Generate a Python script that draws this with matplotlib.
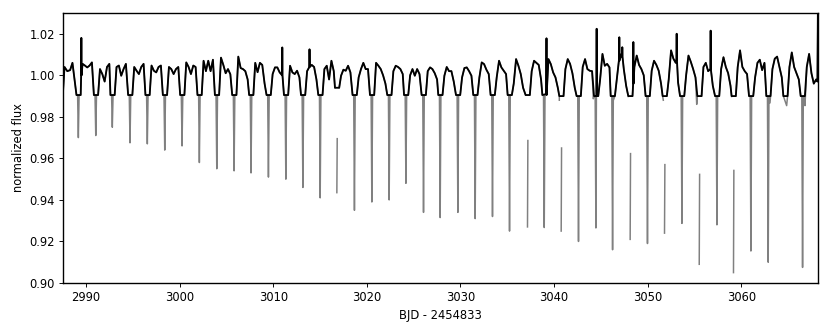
import numpy as np
import matplotlib
matplotlib.use("Agg")
import matplotlib.pyplot as plt

# ---- data ----
# primary eclipse mid-times (BJD - 2454833)
ecl_t = [2989.18, 2991.04, 2992.81, 2994.70, 2996.55, 2998.41, 3000.26, 3002.11,
         3003.97, 3005.82, 3007.63, 3009.49, 3011.35, 3013.17, 3015.02, 3016.80,
         3018.68, 3020.54, 3022.39, 3024.18, 3026.06, 3027.84, 3029.73, 3031.58,
         3033.43, 3035.25, 3037.17, 3038.96, 3040.77, 3042.62, 3044.48, 3046.26,
         3048.14, 3049.99, 3051.81, 3053.67, 3055.52, 3057.41, 3059.18, 3061.04,
         3062.89, 3064.71, 3066.56]
nan = float("nan")
# lowest raw flux in each eclipse
ecl_depth = [0.970, 0.971, 0.975, 0.9675, 0.967, 0.964, 0.966, 0.958,
             0.955, 0.954, 0.953, 0.951, 0.950, 0.946, 0.941, 0.9435,
             0.935, 0.939, 0.940, 0.948, 0.934, 0.9315, 0.934, 0.931,
             0.932, 0.925, 0.927, 0.9267, 0.925, 0.920, 0.9265, 0.916,
             0.921, 0.919, 0.924, 0.9287, 0.909, 0.928, 0.905, 0.9154,
             0.910, nan, 0.9075]
# top of isolated (gap-bounded) in-eclipse segments
ecl_top = [nan] * 15 + [0.9695] + [nan] * 10 + [0.9686, nan, 0.965, nan, nan, nan,
           0.9623, nan, 0.957, nan, 0.9523, nan, 0.9542, nan, nan, nan, nan]
# level of the masked (flat) model during each eclipse
flat_level = [0.9905] * 15 + [0.994] + [0.9905] * 12 + [0.990] * 15

# out-of-eclipse model flux after each eclipse
knot_a = [1.0055, 1.003, 1.004, 1.004, 1.0047, 1.004, 1.0062, 1.007, 1.0085, 1.009,
          1.006, 1.0006, 1.0046, 1.002, 1.003, 0.9998, 0.999, 1.006, 1.002, 1.000,
          1.002, 0.9998, 0.999, 0.999, 0.999, 0.996, 1.002, 1.0078, 1.003, 1.004,
          0.998, 0.998, 1.004, 1.0022, 0.998, 1.000, 1.004, 1.003, 1.004, 0.999,
          1.003, 1.004, 1.004]
knot_b = [1.0047, 1.0006, 1.0047, 1.0022, 1.0022, 1.003, 1.004, 1.002, 1.005, 1.0035,
          1.0015, 1.0038, 1.0014, 1.006, 1.0046, 1.0027, 1.003, 1.0046, 1.0046, 1.003,
          1.0038, 1.004, 1.0035, 1.0062, 1.007, 1.0078, 1.007, 1.0054, 1.0078, 1.0078,
          1.0103, 1.008, 1.0095, 1.007, 1.012, 1.0095, 1.006, 1.0087, 1.012, 1.006,
          1.008, 1.011, 1.0103]
knot_c = [1.0038, 0.997, 0.9998, 1.0006, 1.0014, 1.0006, 1.0006, 1.007, 1.001, 1.003,
          1.006, 1.0038, 1.0006, 1.005, 0.998, 1.0022, 1.006, 1.003, 1.004, 0.9998,
          1.003, 1.002, 1.0038, 1.0054, 1.0038, 1.0046, 1.006, 1.0014, 1.0055, 1.003,
          1.0046, 1.0103, 1.005, 1.005, 1.008, 1.0065, 1.002, 1.004, 1.004, 1.0075,
          1.009, 1.004, 1.001]
knot_d = [1.0047, 1.004, 1.003, 1.004, 1.004, 1.003, 1.0047, 1.002, 1.003, 1.002,
          1.005, 1.0014, 1.0022, 1.004, 1.007, 1.0046, 1.003, 1.000, 1.003, 1.003,
          1.001, 1.002, 1.002, 1.0027, 1.0022, 1.0006, 1.005, 0.999, 1.001, 1.0022,
          1.0055, 1.003, 1.003, 1.0022, 1.006, 1.003, 1.003, 1.001, 1.002, 1.0025,
          1.004, 1.001, 0.996]
knot_e = [1.0062, 1.0055, 1.0055, 1.0055, 1.0047, 1.004, 1.004, 1.0075, 1.0005, 0.998,
          0.996, 1.000, 0.999, 0.998, 1.002, 1.0014, 1.003, 0.996, 1.0006, 1.0006,
          0.998, 0.997, 0.9998, 1.0006, 1.0006, 0.994, 0.998, 0.994, 0.994, 1.002,
          1.0038, 0.995, 1.000, 0.996, 0.9965, 0.999, 0.995, 0.995, 1.0006, 1.006,
          0.999, 0.998, 0.998]
knot_offsets = [0.45, 0.70, 0.95, 1.20, 1.45]

# start of the light curve (before first eclipse) and its end
pre_t = [2987.54, 2987.70, 2988.00, 2988.30, 2988.55]
pre_f = [0.992, 1.004, 1.002, 1.0025, 1.006]
end_t = [3068.15, 3068.21]
end_f = [0.997, 1.040]

# single-cadence upward outliers
spike_t = [2989.50, 3010.97, 3013.88, 3039.20, 3044.56, 3046.98, 3047.30, 3048.48,
           3053.11, 3056.74]
spike_f = [1.018, 1.0134, 1.0125, 1.0178, 1.0224, 1.0183, 1.0135, 1.016, 1.020, 1.0215]
spike_base = [1.000, 1.000, 1.004, 0.991, 0.990, 1.007, 1.009, 0.996, 1.008, 1.003]

# small raw-flux points just below the model next to eclipses
blip_t = [3040.57, 3044.20, 3046.34, 3047.94, 3051.68, 3055.25, 3058.98, 3063.08,
          3064.86, 3066.82]
blip_f = [0.988, 0.9887, 0.988, 0.9898, 0.988, 0.986, 0.9898, 0.9867, 0.9854, 0.9854]

# ---- build the two series ----
knots = [knot_a, knot_b, knot_c, knot_d, knot_e]
bt, bf = list(pre_t), list(pre_f)
for i, t0 in enumerate(ecl_t):
    bt += [t0 - 0.20, t0 + 0.25]
    bf += [flat_level[i], flat_level[i]]
    for k, off in enumerate(knot_offsets):
        bt.append(t0 + off)
        bf.append(knots[k][i])
for t, f, b in zip(spike_t, spike_f, spike_base):
    bt += [t - 0.02, t, t + 0.02]
    bf += [b, f, b]
bt += end_t
bf += end_f
order = np.argsort(bt, kind="stable")
bt = np.array(bt)[order]
bf = np.array(bf)[order]

gt, gf = list(bt), list(bf)
for i, t0 in enumerate(ecl_t):
    d = ecl_depth[i]
    if np.isnan(d):
        continue
    if np.isnan(ecl_top[i]):
        gt += [t0 - 0.08, t0, t0 + 0.08]
        gf += [flat_level[i], d, flat_level[i]]
    else:
        gt += [t0 - 0.01, t0, t0 + 0.04, t0 + 0.05]
        gf += [nan, d, ecl_top[i], nan]
gt += blip_t
gf += blip_f
order = np.argsort(gt, kind="stable")
gt = np.array(gt)[order]
gf = np.array(gf)[order]

# ---- plot ----
fig = plt.figure(figsize=(10, 4), dpi=83)
ax = fig.add_axes([63 / 830, 49 / 332, 755 / 830, 270 / 332])
ax.plot(gt, gf, color="0.5", lw=1.3)
ax.plot(bt, bf, color="black", lw=1.6)
ax.set_xlim(bt[0], bt[-1])
ax.set_ylim(0.90, 1.03)
ax.set_yticks([0.90, 0.92, 0.94, 0.96, 0.98, 1.00, 1.02])
ax.yaxis.set_major_formatter("{x:.2f}")
ax.set_xlabel("BJD - 2454833")
ax.set_ylabel("normalized flux")
for s in ax.spines.values():
    s.set_linewidth(1.2)
fig.savefig("out.png", dpi=83)
